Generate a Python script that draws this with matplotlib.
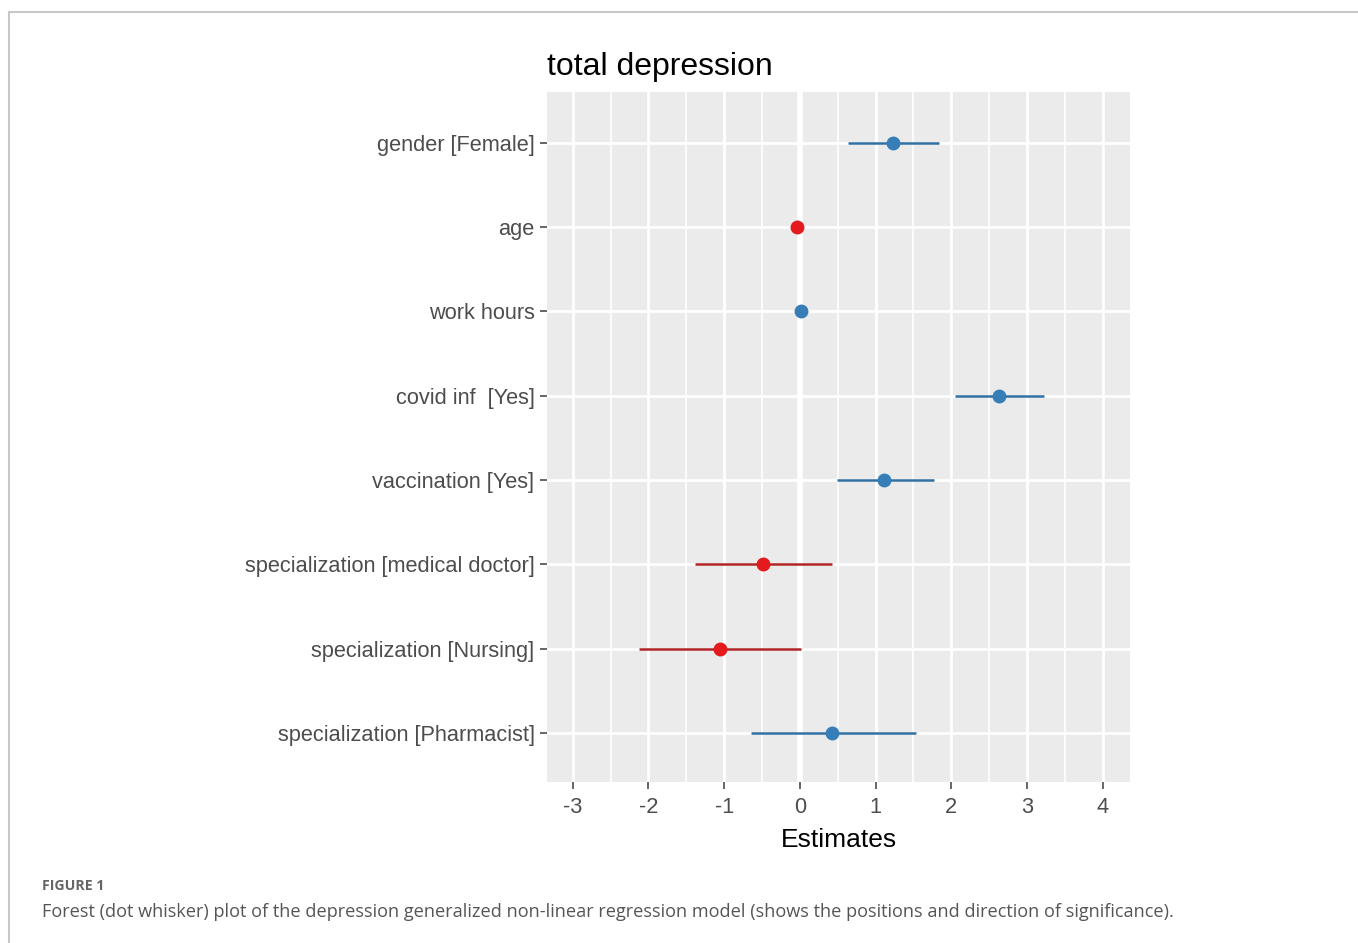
import matplotlib
matplotlib.use("Agg")
import matplotlib.pyplot as plt
from matplotlib.lines import Line2D
import numpy as np

terms = ["gender [Female]", "age", "work hours", "covid inf  [Yes]",
         "vaccination [Yes]", "specialization [medical doctor]",
         "specialization [Nursing]", "specialization [Pharmacist]"]
estimates = [1.23, -0.04, 0.01, 2.63, 1.11, -0.49, -1.06, 0.42]
ci_low = [0.63, -0.06, -0.01, 2.05, 0.49, -1.39, -2.12, -0.65]
ci_high = [1.84, -0.02, 0.03, 3.23, 1.77, 0.42, 0.01, 1.53]
x_ticks = [-3, -2, -1, 0, 1, 2, 3, 4]

BLUE = "#377EB8"
BLUE_LINE = "#3070a3"
RED = "#E41A1C"
RED_LINE = "#b02426"

W, H = 1358, 943
fig = plt.figure(figsize=(W / 100, H / 100), dpi=100)
fig.patch.set_facecolor("white")

ax = fig.add_axes([547 / W, 1 - 782 / H, (1130 - 547) / W, (782 - 92) / H])
ax.set_facecolor("#EBEBEB")
for s in ax.spines.values():
    s.set_visible(False)

n = len(terms)
ypos = np.arange(n)[::-1]  # first term at top

# grid
ax.set_xticks(x_ticks)
ax.set_xticks(np.arange(-3.5, 4.51, 1.0), minor=True)
ax.set_yticks(ypos)
ax.set_xlim(-3.34, 4.36)
ax.set_ylim(-0.58, n - 1 + 0.6)
ax.grid(True, which="major", color="white", linewidth=2.0)
ax.grid(True, which="minor", axis="x", color="white", linewidth=1.2)
ax.set_axisbelow(True)
ax.axvline(0, color="white", linewidth=4.0, zorder=1)

for y, est, lo, hi in zip(ypos, estimates, ci_low, ci_high):
    pos = est > 0
    col = BLUE if pos else RED
    lcol = BLUE_LINE if pos else RED_LINE
    ax.plot([lo, hi], [y, y], color=lcol, linewidth=1.8, zorder=3, solid_capstyle="butt")
    ax.plot([est], [y], marker="o", markersize=9, color=col,
            markeredgecolor=col, zorder=4, linestyle="none")

ax.set_yticklabels(terms, fontsize=15.7, color="#4D4D4D", family="Liberation Sans")
ax.set_xticklabels([str(t) for t in x_ticks], fontsize=15.7, color="#4D4D4D",
                   family="Liberation Sans")
ax.tick_params(axis="both", which="major", length=5, width=1.2, color="#4D4D4D")
ax.tick_params(axis="y", which="major", pad=4)
ax.tick_params(axis="x", which="major", pad=6)
ax.tick_params(axis="x", which="minor", length=0)

ax.set_xlabel("Estimates", fontsize=19, color="black", family="Liberation Sans", labelpad=7)
ax.set_title("total depression", fontsize=23, color="black", family="Liberation Sans",
             loc="left", pad=12)

# page frame lines
fig.add_artist(Line2D([9 / W, 1], [1 - 12 / H, 1 - 12 / H], color="#C8C8C8", linewidth=1.5))
fig.add_artist(Line2D([9 / W, 9 / W], [0, 1 - 12 / H], color="#C8C8C8", linewidth=1.5))

fig.text(42 / W, 1 - 886 / H, "FIGURE 1", fontsize=10.2, fontweight="bold",
         color="#666666", family="Open Sans", va="center", ha="left")
fig.text(42 / W, 1 - 912 / H,
         "Forest (dot whisker) plot of the depression generalized non-linear regression model "
         "(shows the positions and direction of significance).",
         fontsize=13.1, color="#555555", family="Open Sans", va="center", ha="left")

fig.savefig("out.png", dpi=100, facecolor="white")
